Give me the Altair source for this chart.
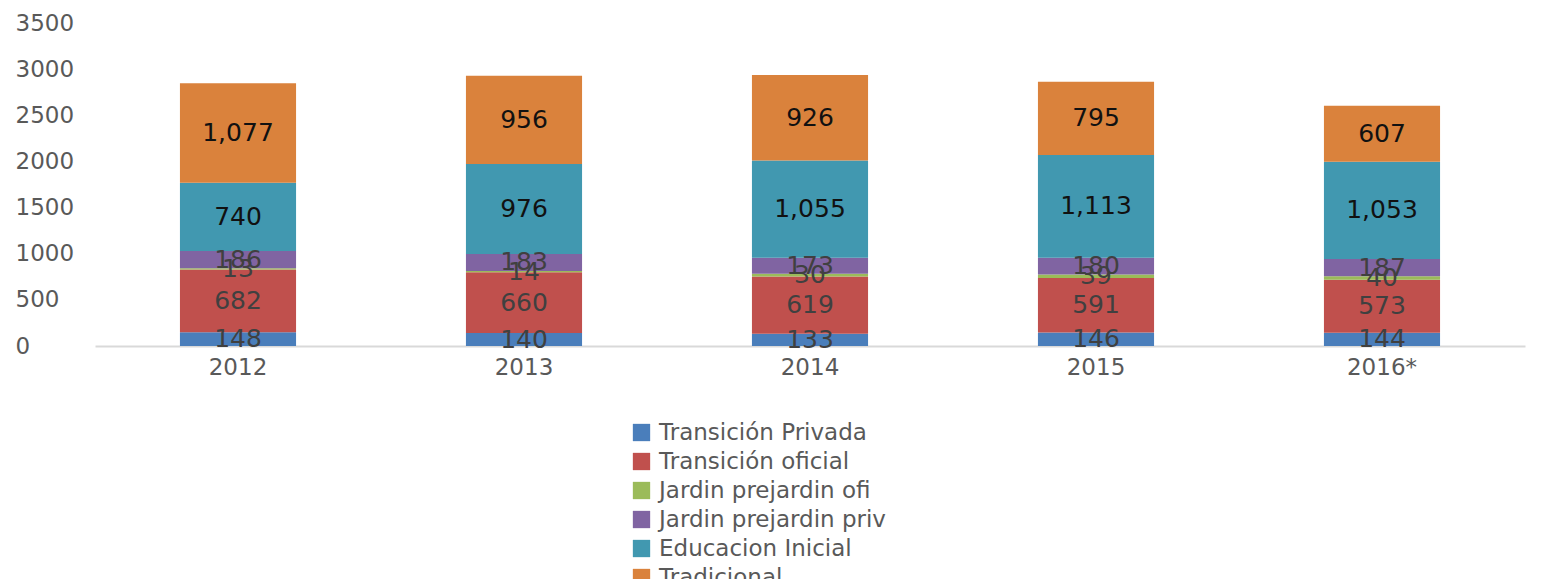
import altair as alt
import pandas as pd

years = ["2012", "2013", "2014", "2015", "2016*"]
series = ["Transición Privada", "Transición oficial", "Jardin prejardin ofi",
          "Jardin prejardin priv", "Educacion Inicial", "Tradicional"]
colors = ["#4a7ebb", "#c0504d", "#9bbb59", "#8064a2", "#4198b0", "#da823c"]

transicion_privada = [148, 140, 133, 146, 144]
transicion_oficial = [682, 660, 619, 591, 573]
jardin_ofi = [13, 14, 30, 39, 40]
jardin_priv = [186, 183, 173, 180, 187]
educacion_inicial = [740, 976, 1055, 1113, 1053]
tradicional = [1077, 956, 926, 795, 607]

all_vals = [transicion_privada, transicion_oficial, jardin_ofi,
            jardin_priv, educacion_inicial, tradicional]

rows = []
for si, (s, vals) in enumerate(zip(series, all_vals)):
    for y, v in zip(years, vals):
        rows.append({"year": y, "series": s, "order": si, "value": v})
df = pd.DataFrame(rows)

FONT = "DejaVu Sans"

base = alt.Chart(df).transform_stack(
    stack="value", groupby=["year"], as_=["v0", "v1"],
    sort=[alt.SortField("order", order="ascending")]
).transform_calculate(
    mid="(datum.v0 + datum.v1) / 2",
    tcol="(datum.series == 'Tradicional' || datum.series == 'Educacion Inicial') ? '#111111' : '#404040'"
)

x_enc = alt.X("year:N", sort=years, title=None,
              scale=alt.Scale(paddingInner=0.594, paddingOuter=0.297),
              axis=alt.Axis(labelAngle=0, ticks=False, domainColor="#d9d9d9",
                            domainWidth=2, labelFontSize=23, labelColor="#595959",
                            labelPadding=10, labelFont=FONT))

bars = base.mark_bar().encode(
    x=x_enc,
    y=alt.Y("v0:Q", title=None,
            scale=alt.Scale(domain=[0, 3500], nice=False),
            axis=alt.Axis(values=list(range(0, 3501, 500)), grid=False, domain=False,
                          ticks=False, labelAlign="left", labelPadding=80, format="d",
                          labelFontSize=23, labelColor="#595959", labelFont=FONT)),
    y2="v1:Q",
    color=alt.Color("series:N", sort=series,
                    scale=alt.Scale(domain=series, range=colors),
                    legend=alt.Legend(title=None, orient="none", legendX=535, legendY=398,
                                      direction="vertical", symbolType="square",
                                      symbolSize=300, symbolStrokeWidth=0,
                                      labelFontSize=23, labelColor="#595959",
                                      labelLimit=400,
                                      labelFont=FONT, rowPadding=5, labelOffset=6)),
)

labels = base.mark_text(fontSize=25, font=FONT, baseline="middle").encode(
    x=alt.X("year:N", sort=years),
    y=alt.Y("mid:Q"),
    text=alt.Text("value:Q", format=","),
    color=alt.Color("tcol:N", scale=None),
)

chart = alt.layer(bars, labels).properties(
    width=1430, height=323,
    padding={"left": 87, "top": 15, "right": 12, "bottom": 233},
    autosize=alt.AutoSizeParams(type="none"),
).configure_view(stroke=None)

chart.save("out.html", embed_options={"renderer": "svg", "actions": False})
